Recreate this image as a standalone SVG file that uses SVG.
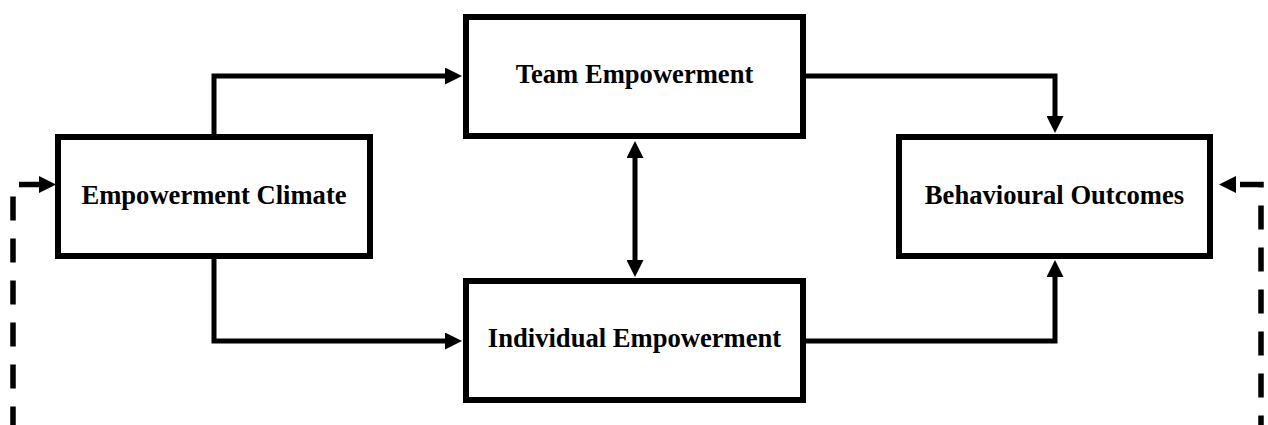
<svg xmlns="http://www.w3.org/2000/svg" width="1268" height="425" viewBox="0 0 1268 425">
  <style>
    .box { fill: #ffffff; stroke: #000000; stroke-width: 6; }
    .label { font-family: "Liberation Serif", "Times New Roman", serif; font-weight: bold; font-size: 26.6px; fill: #000000; text-anchor: middle; }
    .link { fill: none; stroke: #000000; stroke-width: 5; stroke-linejoin: miter; }
    .feedback { fill: none; stroke: #000000; stroke-width: 5.5; stroke-dasharray: 24 18; }
  </style>
  <defs>
    <marker id="arrow" markerUnits="userSpaceOnUse" viewBox="0 0 17 17" markerWidth="17" markerHeight="17" refX="1" refY="8.5" orient="auto-start-reverse">
      <path d="M0,0 L17,8.5 L0,17 Z" fill="#000000"/>
    </marker>
  </defs>

  <rect width="1268" height="425" fill="#ffffff"/>

  <!-- connectors -->
  <g id="connectors">
    <path class="link" d="M214,134 V76 H446" marker-end="url(#arrow)"/>
    <path class="link" d="M214,259 V341 H446" marker-end="url(#arrow)"/>
    <path class="link" d="M806,76 H1055 V117" marker-end="url(#arrow)"/>
    <path class="link" d="M806,341 H1055 V276" marker-end="url(#arrow)"/>
    <path class="link" d="M635,157 V261" marker-start="url(#arrow)" marker-end="url(#arrow)"/>
    <path class="feedback" d="M40,184.5 H13 V430" stroke-dashoffset="3" marker-start="url(#arrow)"/>
    <path class="feedback" d="M1235,184.5 H1261 V430" stroke-dashoffset="37" marker-start="url(#arrow)"/>
  </g>

  <g id="empowerment-climate">
    <rect class="box" x="58" y="137" width="312" height="119"/>
    <text class="label" x="214" y="204">Empowerment Climate</text>
  </g>

  <g id="team-empowerment">
    <rect class="box" x="466" y="17" width="337" height="119"/>
    <text class="label" x="634.5" y="83">Team Empowerment</text>
  </g>

  <g id="individual-empowerment">
    <rect class="box" x="466" y="281" width="337" height="119"/>
    <text class="label" x="634.5" y="347">Individual Empowerment</text>
  </g>

  <g id="behavioural-outcomes">
    <rect class="box" x="899" y="137" width="311" height="119"/>
    <text class="label" x="1054.5" y="204">Behavioural Outcomes</text>
  </g>
</svg>
